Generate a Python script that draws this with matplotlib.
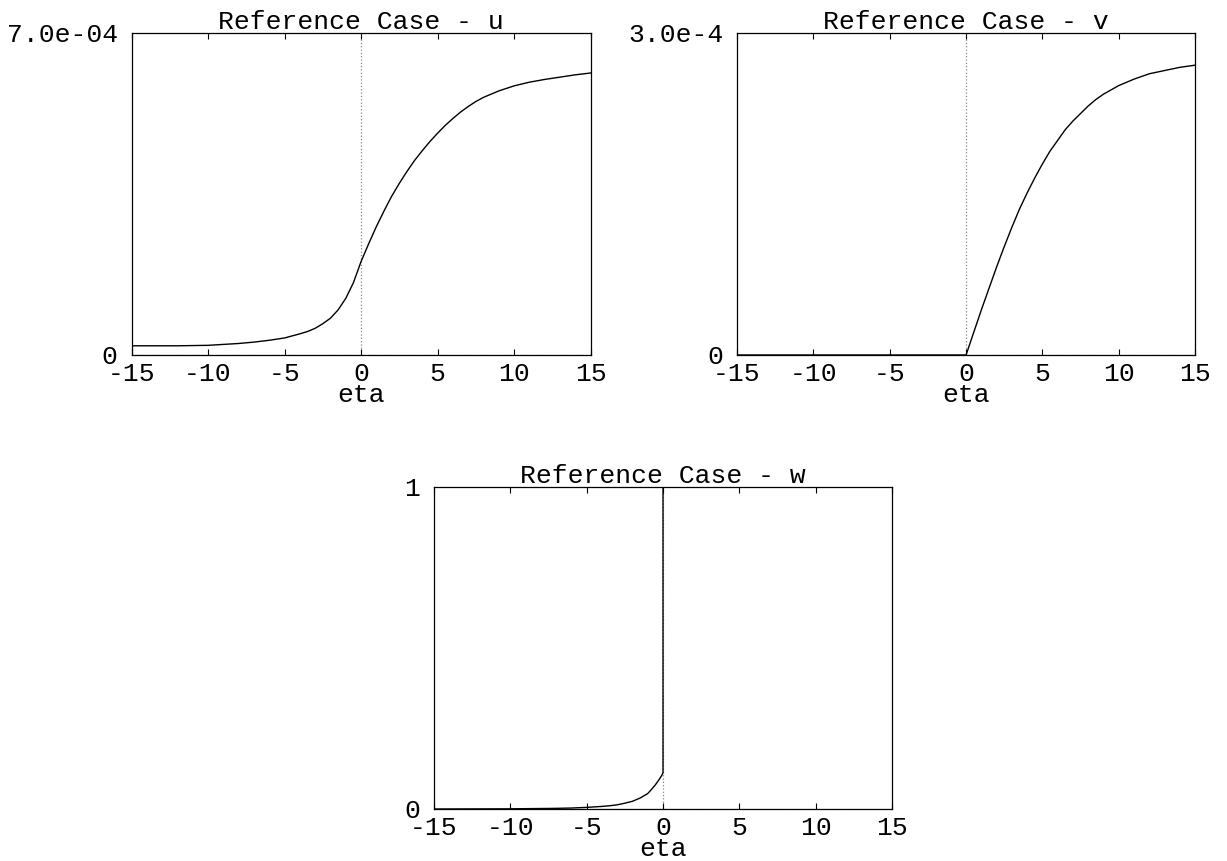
import matplotlib
matplotlib.use('Agg')
import matplotlib.pyplot as plt

plt.rcParams['font.family'] = ['Liberation Mono', 'DejaVu Sans Mono']
plt.rcParams['font.size'] = 19

# values (u, v in units of 1e-4)
u_eta = [-15, -12, -10, -8, -7, -6, -5, -4, -3.5, -3, -2.5, -2, -1.5, -1, -0.5, 0,
         0.5, 1, 1.5, 2, 2.5, 3, 3.5, 4, 4.5, 5, 5.5, 6, 6.5, 7, 7.5, 8,
         9, 10, 11, 12, 13, 14, 15]
u_val = [0.20, 0.20, 0.21, 0.25, 0.28, 0.32, 0.37, 0.46, 0.51, 0.58, 0.68, 0.80,
         0.98, 1.23, 1.57, 2.03, 2.42, 2.79, 3.13, 3.45, 3.73, 3.99, 4.23, 4.44,
         4.64, 4.82, 4.99, 5.14, 5.28, 5.40, 5.51, 5.60, 5.74, 5.85, 5.93, 5.99,
         6.04, 6.09, 6.13]
u_val = [x * 1e-4 for x in u_val]

v_eta = [-15, 0, 0.5, 1, 1.5, 2, 2.5, 3, 3.5, 4, 4.5, 5, 5.5, 6, 6.5, 7, 7.5,
         8, 8.5, 9, 9.5, 10, 11, 12, 13, 14, 15]
v_val = [0, 0, 0.21, 0.42, 0.62, 0.82, 1.01, 1.19, 1.36, 1.51, 1.65, 1.78, 1.90,
         2.00, 2.10, 2.18, 2.25, 2.32, 2.38, 2.43, 2.47, 2.51, 2.57, 2.62, 2.65,
         2.68, 2.70]
v_val = [x * 1e-4 for x in v_val]

w_eta = [-15, -10, -7, -6, -5, -4, -3.5, -3, -2.5, -2, -1.5, -1, -0.75, -0.5,
         -0.25, -0.1, 0, 0, 15]
w_val = [0, 0.0005, 0.002, 0.003, 0.005, 0.008, 0.010, 0.013, 0.018, 0.024,
         0.034, 0.048, 0.061, 0.075, 0.092, 0.103, 0.112, 1, 1]

xticks = [-15, -10, -5, 0, 5, 10, 15]

panels = [
    ('Reference Case - u', u_eta, u_val, 7e-4, '7.0e-04', [0.1072, 0.5877, 0.3741, 0.374]),
    ('Reference Case - v', v_eta, v_val, 3e-4, '3.0e-4', [0.6007, 0.5877, 0.3733, 0.374]),
    ('Reference Case - w', w_eta, w_val, 1, '1', [0.3537, 0.0604, 0.3733, 0.374]),
]

fig = plt.figure(figsize=(12.27, 8.61), dpi=100)

for title, xs, ys, ymax, ylab, rect in panels:
    ax = fig.add_axes(rect)
    # gnuplot-style dotted zero axes
    ax.axvline(0, color='#888888', ls=':', lw=0.9, zorder=1)
    ax.axhline(0, color='#888888', ls=':', lw=0.9, zorder=1)
    ax.plot(xs, ys, color='black', lw=1.0, zorder=2)
    ax.set_xlim(-15, 15)
    ax.set_ylim(0, ymax)
    ax.set_xticks(xticks)
    ax.set_xticklabels([str(t) for t in xticks])
    ax.set_yticks([0, ymax])
    ax.set_yticklabels(['0', ylab])
    ax.tick_params(axis='x', direction='in', length=4.3, width=0.8,
                   top=True, pad=5)
    ax.tick_params(axis='y', direction='in', length=0, pad=10)
    for s in ax.spines.values():
        s.set_linewidth(0.9)
    ax.set_xlabel('eta', labelpad=-2)
    ax.set_title(title, pad=3, fontsize=19)

fig.savefig('out.png', dpi=100)
